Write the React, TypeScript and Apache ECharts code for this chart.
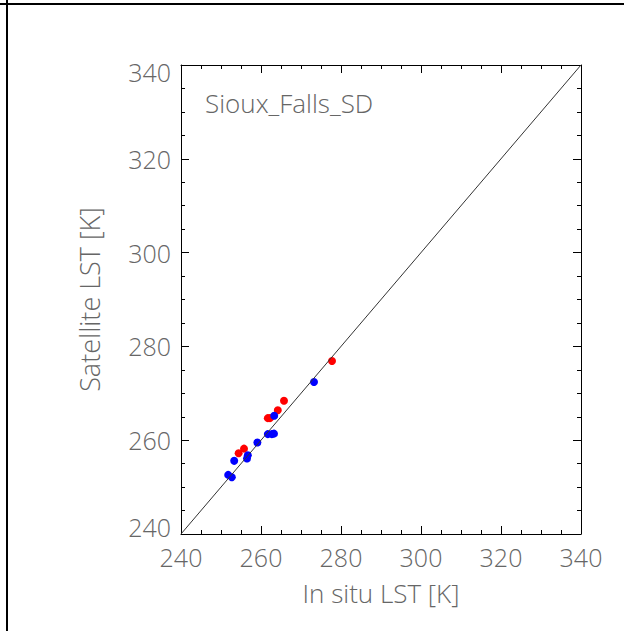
import React, { useEffect, useRef } from "react";
import * as echarts from "echarts";

const siteName = "Sioux_Falls_SD";
const xAxisTitle = "In situ LST [K]";
const yAxisTitle = "Satellite LST [K]";
const axisMin = 240;
const axisMax = 340;
const majorStep = 20;

// [in situ LST, satellite LST]
const redPoints: [number, number][] = [
  [277.75, 276.9],
  [265.75, 268.4],
  [264.2, 266.4],
  [261.7, 264.7],
  [262.25, 264.7],
  [255.75, 258.2],
  [254.4, 257.2],
];

const bluePoints: [number, number][] = [
  [273.25, 272.4],
  [263.3, 265.2],
  [261.7, 261.3],
  [262.7, 261.3],
  [263.25, 261.4],
  [259.1, 259.5],
  [256.7, 256.8],
  [256.5, 256.1],
  [253.3, 255.6],
  [251.8, 252.6],
  [252.7, 252.1],
];

const oneToOne: [number, number][] = [
  [axisMin, axisMin],
  [axisMax, axisMax],
];

const FONT = "'Open Sans', 'DejaVu Sans', sans-serif";
const WEIGHT = 300;
const TEXT_COLOR = "#666";
const LABEL_SIZE = 25;

export default function App() {
  const ref = useRef<HTMLDivElement>(null);

  useEffect(() => {
    if (!ref.current) return;
    const chart = echarts.init(ref.current, null, { renderer: "svg" });

    const baseAxis = {
      type: "value" as const,
      min: axisMin,
      max: axisMax,
      interval: majorStep,
      splitLine: { show: false },
      axisLine: { show: true, onZero: false, lineStyle: { color: "#000", width: 1 } },
      axisTick: { show: true, inside: true, length: 8, lineStyle: { color: "#000", width: 1 } },
      minorTick: { show: true, splitNumber: 4, length: 4, lineStyle: { color: "#000", width: 1 } },
      minorSplitLine: { show: false },
    };

    const labelStyle = {
      fontFamily: FONT,
      fontSize: LABEL_SIZE,
      fontWeight: WEIGHT,
      color: TEXT_COLOR,
    };

    chart.setOption({
      animation: false,
      backgroundColor: "#fff",
      grid: { left: 181, top: 65, width: 400, height: 469, containLabel: false },
      title: {
        text: siteName,
        left: 200,
        top: 85,
        textStyle: { ...labelStyle, fontSize: 26 },
      },
      xAxis: [
        {
          ...baseAxis,
          position: "bottom",
          name: xAxisTitle,
          nameLocation: "middle",
          nameGap: 46,
          nameTextStyle: { ...labelStyle, fontSize: 26 },
          axisLabel: { margin: 10, ...labelStyle },
        },
        {
          ...baseAxis,
          position: "top",
          axisLabel: { show: false },
        },
      ],
      yAxis: [
        {
          ...baseAxis,
          position: "left",
          name: yAxisTitle,
          nameLocation: "middle",
          nameGap: 78,
          nameTextStyle: { ...labelStyle, fontSize: 27 },
          axisLabel: {
            margin: 10,
            ...labelStyle,
            formatter: (v: number) =>
              v === axisMax ? `{hi|${v}}` : v === axisMin ? `{lo|${v}}` : `${v}`,
            rich: {
              hi: { ...labelStyle, padding: [14, 0, 0, 0] },
              lo: { ...labelStyle, padding: [0, 0, 14, 0] },
            },
          },
        },
        {
          ...baseAxis,
          position: "right",
          axisLabel: { show: false },
        },
      ],
      graphic: [
        {
          type: "line",
          shape: { x1: 0, y1: 4, x2: 624, y2: 4 },
          style: { stroke: "#000", lineWidth: 2 },
        },
        {
          type: "line",
          shape: { x1: 7, y1: 0, x2: 7, y2: 631 },
          style: { stroke: "#000", lineWidth: 2 },
        },
      ],
      series: [
        {
          type: "line",
          data: oneToOne,
          symbol: "none",
          lineStyle: { color: "#333", width: 1 },
          silent: true,
        },
        {
          type: "scatter",
          data: redPoints,
          symbol: "circle",
          symbolSize: 8,
          itemStyle: { color: "#ff0000", opacity: 1 },
        },
        {
          type: "scatter",
          data: bluePoints,
          symbol: "circle",
          symbolSize: 8,
          itemStyle: { color: "#0000ff", opacity: 1 },
        },
      ],
    });

    return () => chart.dispose();
  }, []);

  return (
    <div
      ref={ref}
      style={{ position: "fixed", left: 0, top: 0, width: 624, height: 631 }}
    />
  );
}
